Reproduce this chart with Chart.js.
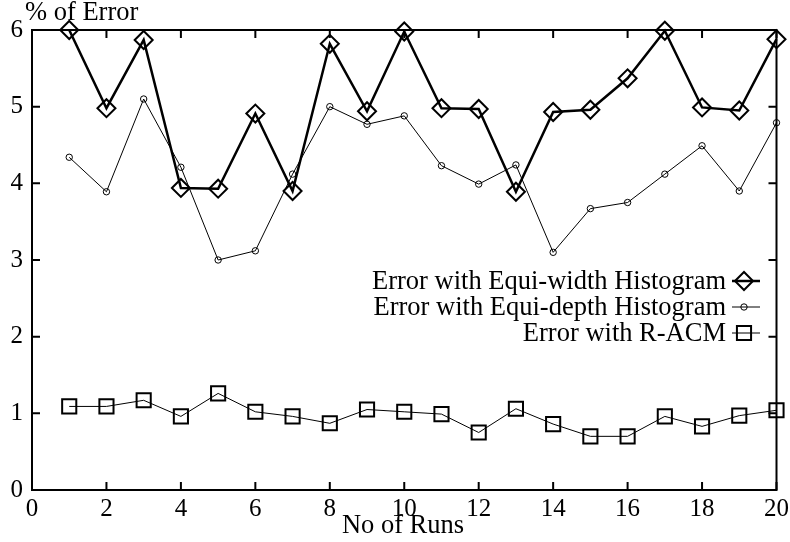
<!DOCTYPE html>
<html>
<head>
<meta charset="utf-8">
<script src="https://cdn.jsdelivr.net/npm/chart.js@4/dist/chart.umd.min.js"></script>
<style>
  html, body { margin: 0; padding: 0; background: #fff; }
  #wrap { width: 790px; height: 542px; position: relative; }
</style>
</head>
<body>
<div id="wrap"><canvas id="c" width="790" height="542"></canvas></div>
<script>
// ---- data ----
const runs = [1,2,3,4,5,6,7,8,9,10,11,12,13,14,15,16,17,18,19,20];
const equiWidth = [6.00,4.98,5.87,3.94,3.93,4.91,3.90,5.82,4.94,5.98,4.98,4.97,3.89,4.93,4.96,5.37,5.99,4.99,4.95,5.88];
const equiDepth = [4.34,3.89,5.10,4.21,3.00,3.12,4.12,5.00,4.77,4.88,4.23,3.99,4.24,3.10,3.67,3.75,4.12,4.49,3.90,4.79];
const racm      = [1.09,1.09,1.17,0.96,1.26,1.02,0.96,0.87,1.05,1.02,0.99,0.75,1.06,0.86,0.70,0.70,0.96,0.83,0.97,1.04];
const seriesNames = ["Error with Equi-width Histogram","Error with Equi-depth Histogram","Error with R-ACM"];
const xTicks = [0,2,4,6,8,10,12,14,16,18,20];
const yTicks = [0,1,2,3,4,5,6];
const xTitle = "No of Runs";
const yTitle = "% of Error";

const FONT = "'Liberation Serif', 'Times New Roman', serif";
const FS = 25;     // tick labels
const FS_T = 26.5; // titles and legend

function pts(vals) { return runs.map((r, i) => ({ x: r, y: vals[i] })); }

function drawMarker(ctx, style, r, x, y) {
  ctx.beginPath();
  if (style === 'rectRot') {
    ctx.moveTo(x - r, y); ctx.lineTo(x, y - r); ctx.lineTo(x + r, y); ctx.lineTo(x, y + r); ctx.closePath();
  } else if (style === 'rect') {
    const s = r * Math.SQRT1_2;
    ctx.rect(x - s, y - s, 2 * s, 2 * s);
  } else {
    ctx.arc(x, y, r, 0, Math.PI * 2);
  }
  ctx.stroke();
}

const framePlugin = {
  id: 'frame',
  beforeDatasetsDraw(chart) {
    const { ctx, chartArea: a, scales } = chart;
    ctx.save();
    ctx.strokeStyle = '#000';
    ctx.lineWidth = 2;
    ctx.strokeRect(a.left, a.top, a.right - a.left, a.bottom - a.top);
    const tl = 8;
    ctx.beginPath();
    xTicks.forEach(v => {
      const px = scales.x.getPixelForValue(v);
      ctx.moveTo(px, a.bottom); ctx.lineTo(px, a.bottom - tl);
      ctx.moveTo(px, a.top); ctx.lineTo(px, a.top + tl);
    });
    yTicks.forEach(v => {
      const py = scales.y.getPixelForValue(v);
      ctx.moveTo(a.left, py); ctx.lineTo(a.left + tl, py);
      ctx.moveTo(a.right, py); ctx.lineTo(a.right - tl, py);
    });
    ctx.stroke();
    ctx.restore();
  },
  afterDraw(chart) {
    const { ctx } = chart;
    ctx.save();
    ctx.fillStyle = '#000';
    ctx.font = FS_T + 'px ' + FONT;
    // axis titles
    ctx.textBaseline = 'alphabetic';
    ctx.textAlign = 'left';
    ctx.fillText(yTitle, 25, 20);
    ctx.textAlign = 'center';
    ctx.fillText(xTitle, 403, 533);
    // legend
    const rowsY = [281, 307, 333];
    const textRight = 726, lineL = 732, lineR = 760, mx = 744;
    chart.data.datasets.forEach((ds, i) => {
      const y = rowsY[i];
      ctx.textAlign = 'right';
      ctx.textBaseline = 'middle';
      ctx.fillText(ds.label, textRight, y + 1);
      ctx.strokeStyle = '#000';
      ctx.lineWidth = ds.borderWidth;
      ctx.beginPath(); ctx.moveTo(lineL, y); ctx.lineTo(lineR, y); ctx.stroke();
      ctx.lineWidth = ds.pointBorderWidth;
      drawMarker(ctx, ds.pointStyle, ds.pointRadius, mx, y);
    });
    ctx.restore();
  }
};

new Chart(document.getElementById('c'), {
  type: 'line',
  data: {
    datasets: [
      { label: seriesNames[0], data: pts(equiWidth), borderColor: '#000', borderWidth: 2.5,
        pointStyle: 'rectRot', pointRadius: 9, pointBorderWidth: 2, pointBackgroundColor: 'rgba(0,0,0,0)',
        pointBorderColor: '#000', clip: false, tension: 0 },
      { label: seriesNames[1], data: pts(equiDepth), borderColor: '#000', borderWidth: 1,
        pointStyle: 'circle', pointRadius: 3.2, pointBorderWidth: 1, pointBackgroundColor: 'rgba(0,0,0,0)',
        pointBorderColor: '#000', clip: false, tension: 0 },
      { label: seriesNames[2], data: pts(racm), borderColor: '#000', borderWidth: 1,
        pointStyle: 'rect', pointRadius: 10, pointBorderWidth: 2, pointBackgroundColor: 'rgba(0,0,0,0)',
        pointBorderColor: '#000', clip: false, tension: 0 }
    ]
  },
  options: {
    responsive: false,
    animation: false,
    devicePixelRatio: 1,
    layout: { padding: { top: 30, right: 13.5, left: 0, bottom: 0 } },
    plugins: { legend: { display: false }, tooltip: { enabled: false }, title: { display: false } },
    scales: {
      x: {
        type: 'linear', min: 0, max: 20,
        afterBuildTicks: s => { s.ticks = xTicks.map(v => ({ value: v })); },
        afterFit: s => { s.height = 52; s.paddingLeft = 0; s.paddingRight = 0; },
        grid: { display: false, drawTicks: false },
        border: { display: false },
        ticks: { color: '#000', font: { family: FONT, size: FS }, padding: 4, maxRotation: 0, autoSkip: false }
      },
      y: {
        type: 'linear', min: 0, max: 6,
        afterBuildTicks: s => { s.ticks = yTicks.map(v => ({ value: v })); },
        afterFit: s => { s.width = 32; s.paddingTop = 0; s.paddingBottom = 0; },
        grid: { display: false, drawTicks: false },
        border: { display: false },
        ticks: { color: '#000', font: { family: FONT, size: FS }, padding: 9 }
      }
    }
  },
  plugins: [framePlugin]
});
</script>
</body>
</html>
